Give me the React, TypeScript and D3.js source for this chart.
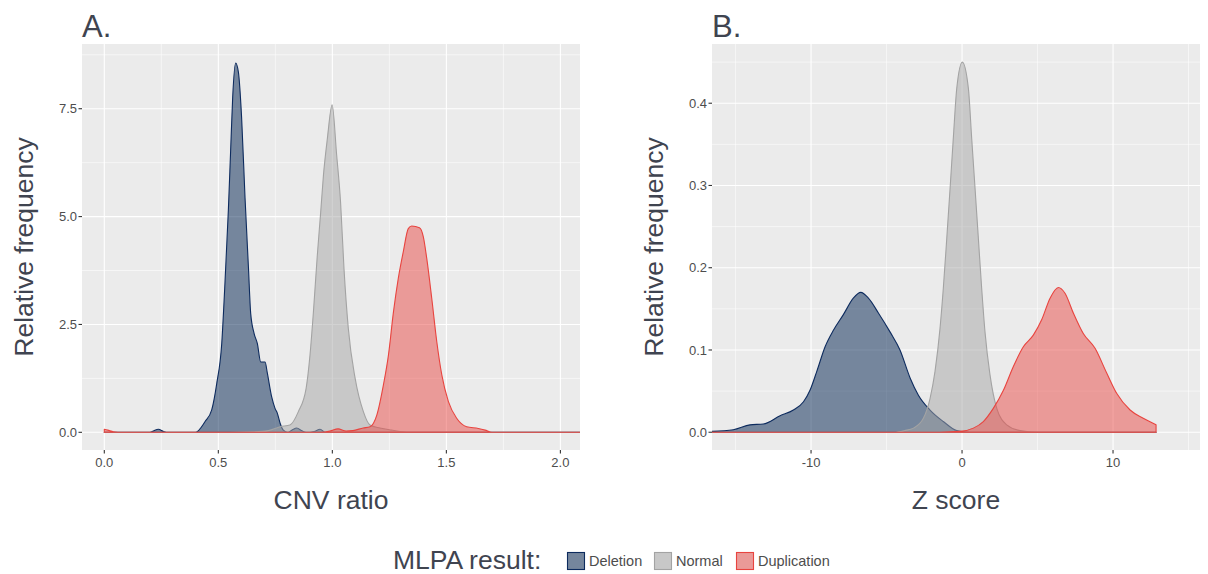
import React, { useRef, useEffect } from 'react'
import * as d3 from 'd3'

type Pt = [number, number]

// Panel A: CNV ratio densities
const cnvDeletion: Pt[] = [
  [0.0, 0], [0.2, 0], [0.215, 0.03], [0.237, 0.07], [0.26, 0.02], [0.28, 0], [0.4, 0],
  [0.442, 0.25], [0.471, 0.52], [0.493, 1.13], [0.515, 2.06], [0.529, 3.45], [0.544, 5.15],
  [0.554, 6.53], [0.563, 7.77], [0.576, 8.56], [0.588, 8.35], [0.602, 7.31], [0.617, 5.45],
  [0.632, 3.83], [0.642, 2.75], [0.657, 2.29], [0.671, 2.06], [0.686, 1.63], [0.705, 1.63],
  [0.715, 1.37], [0.734, 0.82], [0.749, 0.55], [0.759, 0.44], [0.771, 0.21], [0.785, 0.05],
  [0.805, 0], [0.825, 0.06], [0.844, 0.1], [0.865, 0.04], [0.885, 0], [0.92, 0.02],
  [0.946, 0.07], [0.97, 0], [1.1, 0], [2.2, 0]
]
const cnvNormal: Pt[] = [
  [0.0, 0], [0.55, 0], [0.65, 0.01], [0.72, 0.04], [0.771, 0.13], [0.814, 0.17], [0.851, 0.48],
  [0.885, 1.02], [0.902, 1.79], [0.917, 2.79], [0.934, 4.1], [0.949, 5.11], [0.961, 5.96],
  [0.978, 6.8], [0.999, 7.59], [1.019, 6.42], [1.036, 5.34], [1.051, 3.8], [1.07, 2.41],
  [1.1, 1.25], [1.136, 0.48], [1.165, 0.17], [1.209, 0.1], [1.26, 0.05], [1.297, 0.02],
  [1.35, 0], [2.2, 0]
]
const cnvDuplication: Pt[] = [
  [0.0, 0.07], [0.015, 0.05], [0.04, 0.01], [0.06, 0], [0.95, 0], [0.99, 0.03], [1.025, 0.08],
  [1.06, 0.03], [1.09, 0.04], [1.135, 0.1], [1.165, 0.13], [1.195, 0.4], [1.224, 1.1],
  [1.246, 1.79], [1.268, 2.79], [1.289, 3.56], [1.311, 4.18], [1.333, 4.72], [1.348, 4.78],
  [1.382, 4.74], [1.399, 4.53], [1.414, 4.03], [1.436, 3.1], [1.458, 2.1], [1.48, 1.33],
  [1.509, 0.71], [1.546, 0.32], [1.589, 0.13], [1.64, 0.09], [1.67, 0.05], [1.7, 0], [2.2, 0]
]

// Panel B: Z score densities
const zDeletion: Pt[] = [
  [-16.7, 0.001], [-15.15, 0.003], [-14.04, 0.009], [-13.16, 0.01], [-12.05, 0.02],
  [-11.17, 0.027], [-10.5, 0.037], [-10.07, 0.051], [-9.62, 0.074], [-9.07, 0.104],
  [-8.52, 0.124], [-7.86, 0.143], [-7.2, 0.163], [-6.71, 0.17], [-6.2, 0.163], [-5.54, 0.145],
  [-4.77, 0.122], [-4.11, 0.1], [-3.44, 0.066], [-2.89, 0.045], [-2.12, 0.027], [-1.24, 0.013],
  [-0.35, 0.002], [0.5, 0], [12.85, 0]
]
const zNormal: Pt[] = [
  [-16.7, 0], [-4.5, 0], [-3.8, 0.002], [-3.22, 0.005], [-2.56, 0.017], [-2.12, 0.041],
  [-1.79, 0.074], [-1.46, 0.126], [-1.24, 0.175], [-1.01, 0.236], [-0.79, 0.297],
  [-0.58, 0.357], [-0.35, 0.418], [0.02, 0.45], [0.42, 0.418], [0.64, 0.357], [0.86, 0.297],
  [1.08, 0.236], [1.3, 0.175], [1.52, 0.122], [1.85, 0.07], [2.3, 0.029], [2.96, 0.009],
  [3.84, 0.002], [5, 0], [12.85, 0]
]
const zDuplication: Pt[] = [
  [-16.7, 0], [-1.5, 0], [-0.13, 0.001], [0.75, 0.005], [1.41, 0.013], [2.07, 0.029],
  [2.74, 0.051], [3.4, 0.08], [4.06, 0.104], [4.72, 0.118], [5.28, 0.137], [5.83, 0.163],
  [6.38, 0.176], [6.82, 0.169], [7.37, 0.145], [8.03, 0.12], [8.81, 0.102], [9.58, 0.072],
  [10.25, 0.047], [11.13, 0.027], [12.0, 0.017], [12.85, 0.009]
]

const groups = ['Deletion', 'Normal', 'Duplication']
const lineColors = ['#0d2b5e', '#a3a3a3', '#e8443f']
const fillColors = ['#00214f', '#a6a6a6', '#e94945']

const cnvXTicks = [0, 0.5, 1, 1.5, 2]
const cnvXMinor = [0.25, 0.75, 1.25, 1.75]
const cnvYTicks = [0, 2.5, 5, 7.5]
const cnvYMinor = [1.25, 3.75, 6.25, 8.75]
const zXTicks = [-10, 0, 10]
const zXMinor = [-15, -5, 5, 15]
const zYTicks = [0, 0.1, 0.2, 0.3, 0.4]
const zYMinor = [0.05, 0.15, 0.25, 0.35, 0.45]

const FONT = '"Liberation Sans", Arial, Helvetica, sans-serif'
const TEXT = '#3f4450'
const TICK = '#4d4d4d'

export default function App() {
  const ref = useRef<SVGSVGElement>(null)

  useEffect(() => {
    const svg = d3.select(ref.current)
    svg.selectAll('*').remove()

    const panels = [
      {
        id: 'a', label: 'A.', xTitle: 'CNV ratio', left: 82, right: 580,
        xDomain: [-0.0978, 2.086], yDomain: [-0.41, 9.0],
        xTicks: cnvXTicks, xMinor: cnvXMinor, yTicks: cnvYTicks, yMinor: cnvYMinor,
        xFmt: (v: number) => v.toFixed(1), yFmt: (v: number) => v.toFixed(1),
        series: [cnvDeletion, cnvNormal, cnvDuplication]
      },
      {
        id: 'b', label: 'B.', xTitle: 'Z score', left: 712, right: 1200,
        xDomain: [-16.56, 15.76], yDomain: [-0.0216, 0.472],
        xTicks: zXTicks, xMinor: zXMinor, yTicks: zYTicks, yMinor: zYMinor,
        xFmt: (v: number) => String(v), yFmt: (v: number) => v.toFixed(1),
        series: [zDeletion, zNormal, zDuplication]
      }
    ]
    const top = 44
    const bottom = 450

    panels.forEach(p => {
      const x = d3.scaleLinear().domain(p.xDomain).range([p.left, p.right])
      const y = d3.scaleLinear().domain(p.yDomain).range([bottom, top])
      const g = svg.append('g')

      g.append('clipPath').attr('id', 'clip-' + p.id)
        .append('rect')
        .attr('x', p.left).attr('y', top)
        .attr('width', p.right - p.left).attr('height', bottom - top)

      g.append('rect')
        .attr('x', p.left).attr('y', top)
        .attr('width', p.right - p.left).attr('height', bottom - top)
        .attr('fill', '#ebebeb')

      // minor grid
      p.xMinor.forEach(v => {
        g.append('line').attr('x1', x(v)).attr('x2', x(v)).attr('y1', top).attr('y2', bottom)
          .attr('stroke', '#fff').attr('stroke-width', 0.55)
      })
      p.yMinor.forEach(v => {
        g.append('line').attr('x1', p.left).attr('x2', p.right).attr('y1', y(v)).attr('y2', y(v))
          .attr('stroke', '#fff').attr('stroke-width', 0.55)
      })
      // major grid
      p.xTicks.forEach(v => {
        g.append('line').attr('x1', x(v)).attr('x2', x(v)).attr('y1', top).attr('y2', bottom)
          .attr('stroke', '#fff').attr('stroke-width', 1.1)
      })
      p.yTicks.forEach(v => {
        g.append('line').attr('x1', p.left).attr('x2', p.right).attr('y1', y(v)).attr('y2', y(v))
          .attr('stroke', '#fff').attr('stroke-width', 1.1)
      })

      const area = d3.area<Pt>()
        .x(d => x(d[0]))
        .y0(y(0))
        .y1(d => y(d[1]))
        .curve(d3.curveMonotoneX)

      const plot = g.append('g').attr('clip-path', `url(#clip-${p.id})`)
      p.series.forEach((s, i) => {
        plot.append('path')
          .attr('d', area(s) + 'Z')
          .attr('fill', fillColors[i])
          .attr('fill-opacity', 0.5)
          .attr('stroke', lineColors[i])
          .attr('stroke-width', 1.1)
          .attr('stroke-linejoin', 'round')
      })

      // axes ticks and labels
      p.xTicks.forEach(v => {
        g.append('line').attr('x1', x(v)).attr('x2', x(v)).attr('y1', bottom).attr('y2', bottom + 3.5)
          .attr('stroke', '#333').attr('stroke-width', 1.1)
        g.append('text').attr('x', x(v)).attr('y', bottom + 16.5)
          .attr('text-anchor', 'middle').attr('font-size', 13).attr('fill', TICK)
          .attr('font-family', FONT).text(p.xFmt(v))
      })
      p.yTicks.forEach(v => {
        g.append('line').attr('x1', p.left - 3.5).attr('x2', p.left).attr('y1', y(v)).attr('y2', y(v))
          .attr('stroke', '#333').attr('stroke-width', 1.1)
        g.append('text').attr('x', p.left - 5).attr('y', y(v)).attr('dy', '0.35em')
          .attr('text-anchor', 'end').attr('font-size', 13).attr('fill', TICK)
          .attr('font-family', FONT).text(p.yFmt(v))
      })

      g.append('text').attr('x', p.left).attr('y', 37)
        .attr('font-size', 31).attr('fill', TEXT).attr('font-family', FONT).text(p.label)

      g.append('text').attr('x', (p.left + p.right) / 2).attr('y', 509)
        .attr('text-anchor', 'middle').attr('font-size', 26.5).attr('fill', TEXT)
        .attr('font-family', FONT).text(p.xTitle)

      g.append('text')
        .attr('transform', `translate(${p.left - 49},${(top + bottom) / 2}) rotate(-90)`)
        .attr('text-anchor', 'middle').attr('font-size', 26.5).attr('fill', TEXT)
        .attr('font-family', FONT).text('Relative frequency')
    })

    // legend
    const legend = svg.append('g')
    legend.append('text').attr('x', 393).attr('y', 569)
      .attr('font-size', 26.5).attr('fill', TEXT).attr('font-family', FONT).text('MLPA result:')
    const keyX = [567, 654, 736]
    groups.forEach((name, i) => {
      legend.append('rect').attr('x', keyX[i] + 0.5).attr('y', 552.5).attr('width', 17).attr('height', 17)
        .attr('fill', '#ebebeb')
      legend.append('rect').attr('x', keyX[i] + 0.5).attr('y', 552.5).attr('width', 17).attr('height', 17)
        .attr('fill', fillColors[i]).attr('fill-opacity', 0.5)
        .attr('stroke', lineColors[i]).attr('stroke-width', 1.1)
      legend.append('text').attr('x', keyX[i] + 22).attr('y', 566)
        .attr('font-size', 14.5).attr('fill', TICK).attr('font-family', FONT).text(name)
    })
  }, [])

  return (
    <svg ref={ref} width={1208} height={574}
      style={{ position: 'absolute', left: 0, top: 0, background: '#fff' }} />
  )
}
